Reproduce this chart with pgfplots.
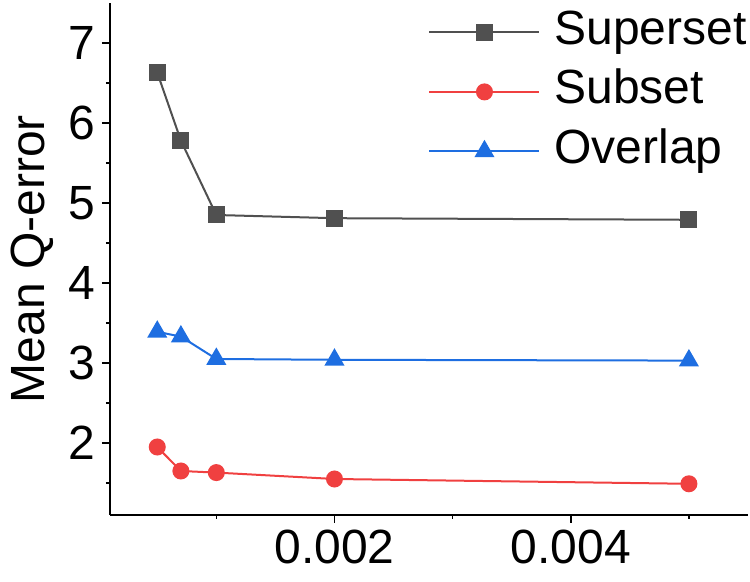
\documentclass[border=0pt]{standalone}
\usepackage{fontspec}
\setmainfont{Liberation Sans}
\usepackage{pgfplots}
\pgfplotsset{compat=1.18}
\definecolor{cgray}{RGB}{80,80,80}
\definecolor{cred}{RGB}{240,64,64}
\definecolor{cblue}{RGB}{30,110,225}
\begin{document}
\begin{tikzpicture}
\useasboundingbox (0,0) rectangle (375pt,291pt);
\begin{axis}[
 at={(55pt,33.5pt)}, anchor=south west,
 scale only axis, width=319pt, height=256pt,
 xmin=0.0001, xmax=0.0055, ymin=1.1, ymax=7.5,
 axis x line*=bottom, axis y line*=left,
 axis line style={-, line width=1pt},
 tick align=outside, major tick length=4pt, minor tick length=2pt,
 every tick/.style={black, line width=0.8pt},
 xtick={0.002,0.004}, xticklabels={0.002,0.004}, minor xtick={0.001,0.003,0.005},
 scaled x ticks=false,
 ytick={2,3,4,5,6,7}, minor ytick={1.5,2.5,3.5,4.5,5.5,6.5},
 font=\fontsize{24}{28}\selectfont,
 /pgf/number format/assume math mode=true,
 ylabel={Mean Q-error},
 every axis y label/.style={at={(axis description cs:-0.122,0.5)}, rotate=90, anchor=center},
 legend cell align=left,
 legend style={draw=none, fill=none, at={(1,1)}, anchor=north east, yshift=-0.5pt, xshift=3.5pt,
   font=\fontsize{24}{28}\selectfont, row sep=5.75pt, column sep=6pt,
   nodes={text height=17pt, text depth=5pt, inner sep=1pt}},
 legend image code/.code={\draw[mark repeat=2,mark phase=2,#1] plot coordinates {(0pt,0pt) (27.5pt,0pt) (55pt,0pt)};},
]
\addplot[color=cgray, line width=1pt, mark=square*, mark size=3.75pt, mark options={solid, fill=cgray}]
 coordinates {(0.0005,6.63)(0.0007,5.78)(0.001,4.85)(0.002,4.81)(0.005,4.79)};
\addlegendentry{Superset}
\addplot[color=cred, line width=1pt, mark=*, mark size=3.75pt, mark options={solid, fill=cred}]
 coordinates {(0.0005,1.95)(0.0007,1.65)(0.001,1.63)(0.002,1.55)(0.005,1.49)};
\addlegendentry{Subset}
\addplot[color=cblue, line width=1pt, mark=triangle*, mark size=4.8pt, mark options={solid, fill=cblue}]
 coordinates {(0.0005,3.39)(0.0007,3.33)(0.001,3.05)(0.002,3.04)(0.005,3.03)};
\addlegendentry{Overlap}
\end{axis}
\end{tikzpicture}
\end{document}
